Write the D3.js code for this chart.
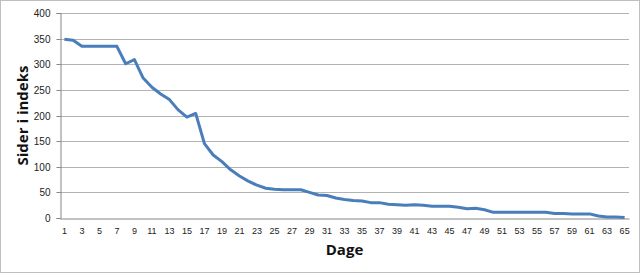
<!DOCTYPE html>
<html>
<head>
<meta charset="utf-8">
<script src="https://cdn.jsdelivr.net/npm/d3@7"></script>
<style>
  body { margin: 0; background: #fff; }
  svg { display: block; font-family: "Open Sans", "Liberation Sans", sans-serif; }
</style>
</head>
<body>
<div id="chart"></div>
<script>
// data
const days = d3.range(1, 66);
const pages = [
  349, 347, 335, 335, 335, 335, 335, 301, 309, 273,
  255, 242, 231, 211, 197, 204, 145, 123, 110, 94,
  82, 72, 64, 58, 56, 55, 55, 55, 50, 45,
  44, 39, 36, 34, 33, 30, 30, 27, 26, 25,
  26, 25, 23, 23, 23, 21, 18, 19, 16, 11,
  11, 11, 11, 11, 11, 11, 9, 9, 8, 8,
  8, 4, 2, 2, 1
];
const yTicks = [0, 50, 100, 150, 200, 250, 300, 350, 400];
const yTitle = "Sider i indeks";
const xTitle = "Dage";

const width = 640, height = 273;
const margin = { top: 13, right: 11, bottom: 55, left: 60 };

const svg = d3.select("#chart").append("svg")
  .attr("width", width)
  .attr("height", height);

svg.append("rect")
  .attr("x", 0.5).attr("y", 0.5)
  .attr("width", width - 1).attr("height", height - 1)
  .attr("fill", "#fff")
  .attr("stroke", "#bfbfbf");

const x = d3.scaleBand()
  .domain(days)
  .range([margin.left, width - margin.right]);

const y = d3.scaleLinear()
  .domain([0, 400])
  .range([height - margin.bottom, margin.top]);

// gridlines
svg.append("g")
  .selectAll("line")
  .data(yTicks.filter(d => d > 0))
  .enter().append("line")
  .attr("x1", margin.left).attr("x2", width - margin.right)
  .attr("y1", d => Math.round(y(d)) + 0.5).attr("y2", d => Math.round(y(d)) + 0.5)
  .attr("stroke", "#b3b3b3");

// y axis
const yAxis = svg.append("g")
  .attr("transform", `translate(${margin.left + 0.5},0)`)
  .call(d3.axisLeft(y).tickValues(yTicks).tickSize(4).tickPadding(6));
yAxis.selectAll("text").attr("font-size", 10).attr("fill", "#222");
yAxis.selectAll("line, path").attr("stroke", "#868686");
yAxis.selectAll(".tick").attr("transform", d => `translate(0,${Math.round(y(d)) + 0.5})`);

// x axis
const xAxis = svg.append("g")
  .attr("transform", `translate(0,${Math.round(y(0)) + 0.5})`)
  .call(d3.axisBottom(x).tickValues(days.filter(d => d % 2 === 1)).tickSize(0).tickPadding(9));
xAxis.selectAll("text").attr("font-size", 9).attr("fill", "#222");
xAxis.select(".domain").attr("stroke", "#868686");

// line
const line = d3.line()
  .x((d, i) => x(days[i]) + x.bandwidth() / 2)
  .y(d => y(d));

svg.append("path")
  .datum(pages)
  .attr("fill", "none")
  .attr("stroke", "#4a7ebb")
  .attr("stroke-width", 3)
  .attr("stroke-linejoin", "round")
  .attr("d", line);

// titles
svg.append("text")
  .attr("x", (margin.left + width - margin.right) / 2)
  .attr("y", 255)
  .attr("text-anchor", "middle")
  .attr("font-size", 15)
  .attr("font-weight", "bold")
  .attr("fill", "#111")
  .text(xTitle);

svg.append("text")
  .attr("transform", `translate(28,${(margin.top + height - margin.bottom) / 2}) rotate(-90)`)
  .attr("text-anchor", "middle")
  .attr("font-size", 15)
  .attr("font-weight", "bold")
  .attr("fill", "#111")
  .text(yTitle);
</script>
</body>
</html>
